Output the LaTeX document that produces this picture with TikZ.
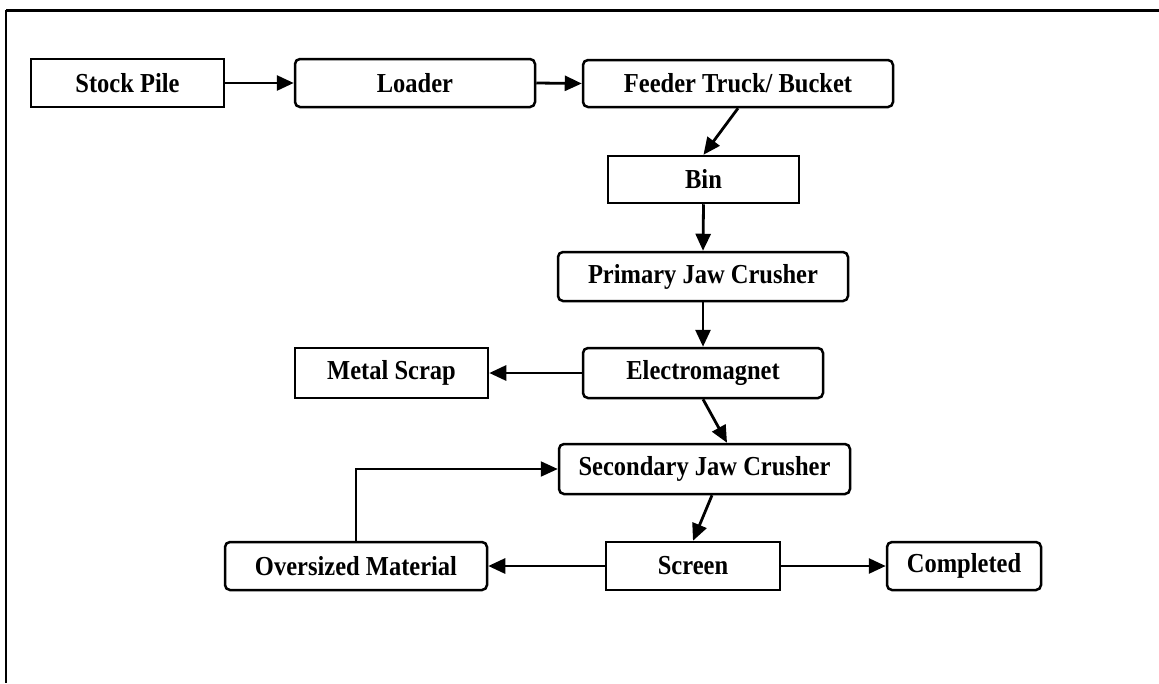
\documentclass[tikz,border=0pt]{standalone}
\usepackage{fontspec}
\setmainfont{Liberation Serif}
\usetikzlibrary{arrows.meta}
\newcommand{\tallt}[1]{\scalebox{1}[1.12]{#1}}
\begin{document}
\begin{tikzpicture}[x=1pt,y=-1pt,
  box/.style={draw=black,line width=2.5pt,minimum height=48pt,inner sep=0pt,
    font=\fontsize{24.5}{27}\selectfont\bfseries,anchor=center},
  sqbox/.style={box},
  rbox/.style={box,rounded corners=5pt},
  flow/.style={line width=2.8pt,-{Triangle[length=17pt,width=15pt]}}]
\useasboundingbox (0,0) rectangle (1159,683);
\draw[line width=3pt] (1159,10) -- (6,10);
\draw[line width=2pt] (6,10) -- (6,683);
\node[sqbox,minimum width=193pt] (sp) at (127.5,83) {\tallt{Stock Pile}};
\node[rbox,minimum width=240pt] (ld) at (415,83) {\tallt{Loader}};
\node[rbox,minimum width=310pt,minimum height=47pt] (fd) at (738,83.5) {\tallt{Feeder Truck/ Bucket}};
\node[sqbox,minimum width=191pt,minimum height=47pt] (bin) at (703.5,179.5) {\tallt{Bin}};
\node[rbox,minimum width=290pt,minimum height=49pt] (pjc) at (703,276.5) {\tallt{Primary Jaw Crusher}};
\node[sqbox,minimum width=193pt,minimum height=50pt] (ms) at (391.5,373) {\tallt{Metal Scrap}};
\node[rbox,minimum width=240pt,minimum height=50pt] (em) at (703,373) {\tallt{Electromagnet}};
\node[rbox,minimum width=291pt,minimum height=50pt] (sjc) at (704.5,469) {\tallt{Secondary Jaw Crusher}};
\node[rbox,minimum width=262pt] (om) at (356,566) {\tallt{Oversized Material}};
\node[sqbox,minimum width=174pt] (scr) at (693,566) {\tallt{Screen}};
\node[rbox,minimum width=154pt] (cmp) at (964,566) {\tallt{Completed}};
\draw[flow] (sp.east) -- (ld.west);
\draw[flow] (ld.east) -- (fd.west);
\draw[flow] (fd.south) -- (bin.north);
\draw[flow] (bin.south) -- (pjc.north);
\draw[flow] (pjc.south) -- (pjc.south |- em.north);
\draw[flow] (em.west) -- (ms.east);
\draw[flow] (em.south) -- ([xshift=22.5pt]sjc.north);
\draw[flow] ([xshift=7.5pt]sjc.south) -- (scr.north);
\draw[flow] (scr.west) -- (om.east);
\draw[flow] (scr.east) -- (cmp.west);
\draw[flow,line width=2.2pt] (om.north) |- (sjc.west);
\end{tikzpicture}
\end{document}
